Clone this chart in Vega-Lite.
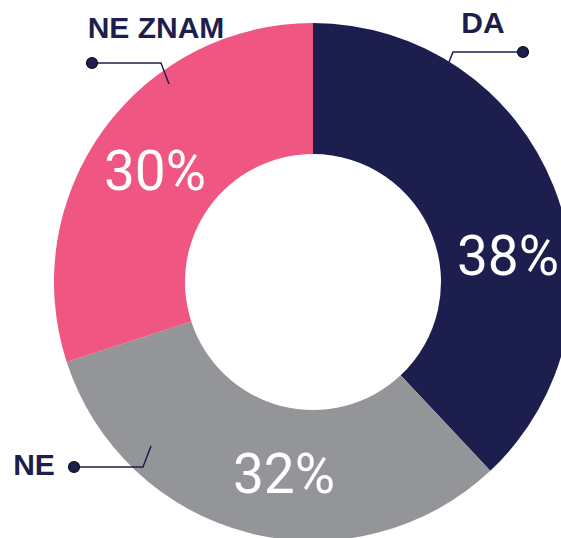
{
  "$schema": "https://vega.github.io/schema/vega-lite/v6.json",
  "width": 626,
  "height": 564,
  "autosize": {"type": "none"},
  "padding": {"left": 0, "top": 0, "right": -65, "bottom": -26},
  "background": "white",
  "config": {"view": {"stroke": null}},
  "datasets": {
    "slices": [
      {"cat": "DA", "value": 38, "ord": 1},
      {"cat": "NE", "value": 32, "ord": 2},
      {"cat": "NE ZNAM", "value": 30, "ord": 3}
    ],
    "pct": [
      {"label": "38%", "x": 195, "y": 7},
      {"label": "32%", "x": -29, "y": -211},
      {"label": "30%", "x": -158, "y": 92}
    ],
    "names": [
      {"label": "DA", "x": 170, "y": 249},
      {"label": "NE ZNAM", "x": -157, "y": 244},
      {"label": "NE", "x": -279, "y": -193}
    ],
    "leaders": [
      {"g": "DA", "i": 0, "x": 210, "y": 230},
      {"g": "DA", "i": 1, "x": 140, "y": 230},
      {"g": "DA", "i": 2, "x": 136, "y": 220},
      {"g": "NE ZNAM", "i": 0, "x": -221, "y": 219},
      {"g": "NE ZNAM", "i": 1, "x": -152, "y": 219},
      {"g": "NE ZNAM", "i": 2, "x": -144, "y": 198},
      {"g": "NE", "i": 0, "x": -239, "y": -185},
      {"g": "NE", "i": 1, "x": -170, "y": -185},
      {"g": "NE", "i": 2, "x": -162, "y": -164}
    ],
    "dots": [
      {"g": "DA", "x": 210, "y": 230},
      {"g": "NE ZNAM", "x": -221, "y": 219},
      {"g": "NE", "x": -239, "y": -185}
    ]
  },
  "layer": [
    {
      "data": {"name": "slices"},
      "mark": {"type": "arc", "outerRadius": 259, "innerRadius": 128},
      "encoding": {
        "theta": {"field": "value", "type": "quantitative", "stack": true},
        "order": {"field": "ord", "type": "quantitative"},
        "color": {
          "field": "cat",
          "type": "nominal",
          "scale": {"domain": ["DA", "NE", "NE ZNAM"], "range": ["#1c1f4d", "#939598", "#ef5682"]},
          "legend": null
        }
      }
    },
    {
      "data": {"name": "leaders"},
      "mark": {"type": "line", "color": "#1c1f4d", "strokeWidth": 1.5},
      "encoding": {
        "x": {"field": "x", "type": "quantitative", "scale": {"domain": [-313, 313], "nice": false, "zero": false}, "axis": null},
        "y": {"field": "y", "type": "quantitative", "scale": {"domain": [-282, 282], "nice": false, "zero": false}, "axis": null},
        "detail": {"field": "g"},
        "order": {"field": "i", "type": "quantitative"}
      }
    },
    {
      "data": {"name": "dots"},
      "mark": {"type": "point", "shape": "circle", "filled": true, "size": 120, "color": "#1c1f4d", "stroke": "#0a0a14", "strokeWidth": 1.2, "opacity": 1},
      "encoding": {
        "x": {"field": "x", "type": "quantitative", "scale": {"domain": [-313, 313], "nice": false, "zero": false}, "axis": null},
        "y": {"field": "y", "type": "quantitative", "scale": {"domain": [-282, 282], "nice": false, "zero": false}, "axis": null}
      }
    },
    {
      "data": {"name": "pct"},
      "mark": {"type": "text", "font": "Roboto", "fontSize": 55, "color": "white", "align": "center", "baseline": "alphabetic"},
      "encoding": {
        "x": {"field": "x", "type": "quantitative", "scale": {"domain": [-313, 313], "nice": false, "zero": false}, "axis": null},
        "y": {"field": "y", "type": "quantitative", "scale": {"domain": [-282, 282], "nice": false, "zero": false}, "axis": null},
        "text": {"field": "label"}
      }
    },
    {
      "data": {"name": "names"},
      "mark": {"type": "text", "font": "Liberation Sans", "fontWeight": "bold", "fontSize": 30, "color": "#1c1f4d", "align": "center", "baseline": "alphabetic"},
      "encoding": {
        "x": {"field": "x", "type": "quantitative", "scale": {"domain": [-313, 313], "nice": false, "zero": false}, "axis": null},
        "y": {"field": "y", "type": "quantitative", "scale": {"domain": [-282, 282], "nice": false, "zero": false}, "axis": null},
        "text": {"field": "label"}
      }
    }
  ]
}
